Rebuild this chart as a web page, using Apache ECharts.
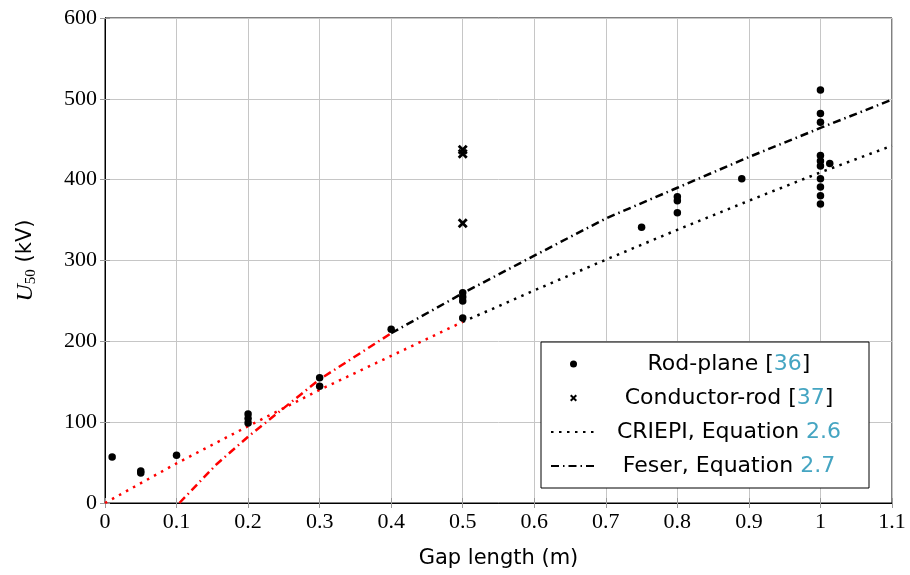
<!DOCTYPE html>
<html>
<head>
<meta charset="utf-8">
<script src="https://cdn.jsdelivr.net/npm/echarts@6/dist/echarts.min.js"></script>
<style>
  html, body { margin: 0; padding: 0; background: #fff; }
  #chart { width: 910px; height: 575px; }
</style>
</head>
<body>
<div id="chart"></div>
<script>
// data
var rodGap = [0.01, 0.05, 0.05, 0.1, 0.2, 0.2, 0.2, 0.3, 0.3, 0.4, 0.5, 0.5, 0.5, 0.5,
              0.75, 0.8, 0.8, 0.8, 0.89, 1, 1, 1, 1, 1, 1, 1, 1, 1, 1, 1.013];
var rodU   = [57, 39.5, 37, 59, 110, 104.5, 99, 155, 144.5, 215, 260, 255, 250, 229,
              341, 379, 374, 359, 401, 511, 482, 471, 430, 423, 417, 401, 391, 380, 370, 420];

var condGap = [0.5, 0.5, 0.5];
var condU   = [437, 432, 346];

var criepiGap = [0, 0.1, 0.2, 0.3, 0.4, 0.5, 0.6, 0.7, 0.8, 0.9, 1, 1.1];
var criepiU   = [0, 49, 95, 140, 182, 224, 263, 301, 338, 374, 409, 442];

var feserGap = [0.104, 0.156, 0.2, 0.3, 0.4, 0.5, 0.6, 0.7, 0.8, 0.9, 1, 1.1];
var feserU   = [0, 48, 82, 153, 210, 259.5, 306, 352, 390, 428, 464, 499];

var criepiSplit = 0.5;   // red part below this gap
var feserSplit = 0.4;

var legendRich = {
    'Rod-plane': '{t|Rod-plane [}{c|36}{t|]}',
    'Conductor-rod': '{t|Conductor-rod [}{c|37}{t|]}',
    'CRIEPI': '{t|CRIEPI, Equation }{c|2.6}',
    'Feser': '{t|Feser, Equation }{c|2.7}'
};

function pairs(xs, ys) {
    return xs.map(function (x, i) { return [x, ys[i]]; });
}
function part(xs, ys, lo, hi) {
    return pairs(xs, ys).filter(function (p) { return p[0] >= lo && p[0] <= hi; });
}

var sans = 'DejaVu Sans';
var serif = 'Liberation Serif';
var grey = '#c6c6c6';
var teal = '#45a5c2';
var crossPath = 'path://M0,2L2,0L5,3L8,0L10,2L7,5L10,8L8,10L5,7L2,10L0,8L3,5Z';

var dom = document.getElementById('chart');
var myChart = echarts.init(dom);

var option = {
    animation: false,
    grid: {
        left: 105,
        right: 18,
        top: 18,
        bottom: 72,
        show: true,
        borderColor: '#000',
        borderWidth: 1
    },
    legend: {
        orient: 'vertical',
        left: 541,
        top: 342,
        padding: [9, 12, 9, 9],
        itemWidth: 45,
        itemHeight: 7,
        itemGap: 8,
        borderColor: '#000',
        borderWidth: 1,
        backgroundColor: '#fff',
        selectedMode: false,
        data: [
            'Rod-plane',
            'Conductor-rod',
            { name: 'CRIEPI', itemStyle: { opacity: 0 } },
            { name: 'Feser', itemStyle: { opacity: 0 } }
        ],
        formatter: function (name) { return legendRich[name]; },
        textStyle: {
            width: 256,
            fontFamily: sans,
            fontSize: 22,
            lineHeight: 26,
            color: '#000',
            rich: {
                t: { align: 'center', fontFamily: sans, fontSize: 22, lineHeight: 26, color: '#000' },
                c: { align: 'center', fontFamily: sans, fontSize: 22, lineHeight: 26, color: teal }
            }
        }
    },
    xAxis: [
        {
            type: 'value',
            min: 0,
            max: 1.1,
            interval: 0.1,
            name: 'Gap length (m)',
            nameLocation: 'middle',
            nameGap: 45,
            nameTextStyle: { fontFamily: sans, fontSize: 21, color: '#000' },
            axisLine: { lineStyle: { color: '#000', width: 1 } },
            axisTick: { inside: true, length: 5, lineStyle: { color: '#999' } },
            axisLabel: {
                margin: 8,
                fontFamily: serif,
                fontSize: 22,
                color: '#000',
                formatter: function (v) { return String(+v.toFixed(1)); }
            },
            splitLine: { show: true, lineStyle: { color: grey, width: 1 } }
        },
        {
            type: 'value',
            position: 'top',
            min: 0,
            max: 1.1,
            interval: 0.1,
            axisLine: { lineStyle: { color: '#000' } },
            axisTick: { inside: true, length: 5, lineStyle: { color: '#999' } },
            axisLabel: { show: false },
            splitLine: { show: false }
        }
    ],
    yAxis: [
        {
            type: 'value',
            min: 0,
            max: 600,
            interval: 100,
            name: '{u|U}{s|50}{k| (kV)}',
            nameLocation: 'middle',
            nameGap: 66,
            nameTextStyle: {
                color: '#000',
                rich: {
                    u: { fontFamily: serif, fontStyle: 'italic', fontSize: 24, color: '#000' },
                    s: { fontFamily: serif, fontSize: 15, color: '#000', padding: [12, 0, 0, 0] },
                    k: { fontFamily: sans, fontSize: 21, color: '#000' }
                }
            },
            axisLine: { show: true, lineStyle: { color: '#000', width: 1 } },
            axisTick: { show: true, inside: true, length: 5, lineStyle: { color: '#999' } },
            axisLabel: { margin: 8, fontFamily: serif, fontSize: 22, color: '#000' },
            splitLine: { show: true, lineStyle: { color: grey, width: 1 } }
        },
        {
            type: 'value',
            position: 'right',
            min: 0,
            max: 600,
            interval: 100,
            axisLine: { show: true, lineStyle: { color: '#000' } },
            axisTick: { show: true, inside: true, length: 5, lineStyle: { color: '#999' } },
            axisLabel: { show: false },
            splitLine: { show: false }
        }
    ],
    series: [
        {
            name: 'CRIEPI-red',
            type: 'line',
            symbol: 'none',
            silent: true,
            z: 3,
            lineStyle: { color: '#ff0000', width: 2.5, type: [2.5, 5.5] },
            data: part(criepiGap, criepiU, 0, criepiSplit)
        },
        {
            name: 'Feser-red',
            type: 'line',
            symbol: 'none',
            silent: true,
            z: 3,
            lineStyle: { color: '#ff0000', width: 2.5, type: [8, 4, 1.5, 4] },
            data: part(feserGap, feserU, 0, feserSplit)
        },
        {
            name: 'CRIEPI',
            type: 'line',
            symbol: 'none',
            z: 3,
            lineStyle: { color: '#000', width: 2.5, type: [2.5, 5.5] },
            itemStyle: { color: '#000' },
            data: part(criepiGap, criepiU, criepiSplit, 2)
        },
        {
            name: 'Feser',
            type: 'line',
            symbol: 'none',
            z: 3,
            lineStyle: { color: '#000', width: 2.5, type: [8, 4, 1.5, 4] },
            itemStyle: { color: '#000' },
            data: part(feserGap, feserU, feserSplit, 2)
        },
        {
            name: 'Rod-plane',
            type: 'scatter',
            symbol: 'circle',
            symbolSize: 7.5,
            z: 4,
            itemStyle: { color: '#000', opacity: 1 },
            data: pairs(rodGap, rodU)
        },
        {
            name: 'Conductor-rod',
            type: 'scatter',
            symbol: crossPath,
            symbolKeepAspect: true,
            symbolSize: 10,
            z: 4,
            itemStyle: { color: '#000', opacity: 1 },
            data: pairs(condGap, condU)
        }
    ]
};

if (option && typeof option === 'object') {
    myChart.setOption(option, true);
}
</script>
</body>
</html>
